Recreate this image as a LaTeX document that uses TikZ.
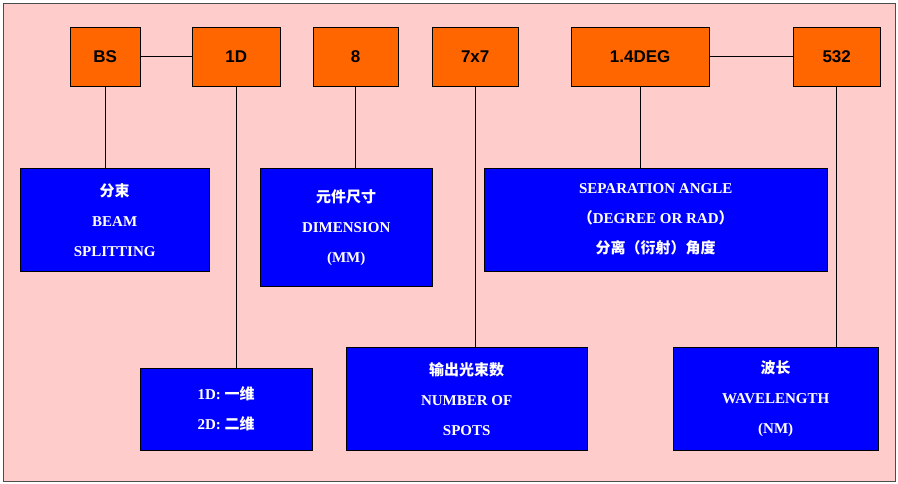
\documentclass[tikz,border=0pt]{standalone}
\usepackage{fontspec}
\setmainfont{Liberation Serif}
\setsansfont{Liberation Sans}
\newfontfamily\cjk{Noto Sans CJK SC}
\definecolor{pinkbg}{RGB}{255,204,204}
\definecolor{orng}{RGB}{255,102,0}
\definecolor{blu}{RGB}{0,0,255}
\begin{document}
\begin{tikzpicture}[x=1pt,y=-1pt,
  top/.style={draw=black,fill=orng,font=\sffamily\bfseries\fontsize{17}{20}\selectfont,anchor=north west,inner sep=0pt},
  blue/.style={draw=black,fill=blu,text=white,font=\bfseries\fontsize{15}{30}\selectfont,anchor=north west,inner sep=0pt,align=center},
  link/.style={draw=black,line width=0.6pt}]
\useasboundingbox (0,0) rectangle (898,484);
\draw[fill=pinkbg,draw=black!70] (3,3) rectangle (895,481);
\node[top,minimum width=70,minimum height=59] (bs) at (70,27) {BS};
\node[top,minimum width=88,minimum height=59] (d1) at (192,27) {1D};
\node[top,minimum width=85,minimum height=59] (e8) at (313,27) {8};
\node[top,minimum width=86,minimum height=59] (s7) at (432,27) {7x7};
\node[top,minimum width=138,minimum height=59] (deg) at (571,27) {1.4DEG};
\node[top,minimum width=87,minimum height=59] (wl) at (793,27) {532};
\node[blue,minimum width=189,minimum height=103] (bsd) at (20,168) {{\cjk 分束}\\BEAM\\SPLITTING};
\node[blue,minimum width=172,minimum height=118] (dim) at (260,168) {{\cjk 元件尺寸}\\DIMENSION\\(MM)};
\node[blue,minimum width=343,minimum height=103] (sep) at (484,168) {SEPARATION ANGLE\\{\cjk （}DEGREE OR RAD{\cjk ）}\\{\cjk 分离（衍射）角度}};
\node[blue,minimum width=172,minimum height=82] (dd) at (140,368) {1D:\ {\cjk 一维}\\2D:\ {\cjk 二维}};
\node[blue,minimum width=241,minimum height=103] (num) at (346,347) {{\cjk 输出光束数}\\NUMBER OF\\SPOTS};
\node[blue,minimum width=205,minimum height=103] (wld) at (673,347) {{\cjk 波长}\\WAVELENGTH\\(NM)};
\draw[link] (bs.east) -- (d1.west);
\draw[link] (deg.east) -- (wl.west);
\draw[link] (bs.south) -- (bs.south |- bsd.north);
\draw[link] (d1.south) -- (d1.south |- dd.north);
\draw[link] (e8.south) -- (e8.south |- dim.north);
\draw[link] (s7.south) -- (s7.south |- num.north);
\draw[link] (deg.south) -- (deg.south |- sep.north);
\draw[link] (wl.south) -- (wl.south |- wld.north);
\end{tikzpicture}
\end{document}
